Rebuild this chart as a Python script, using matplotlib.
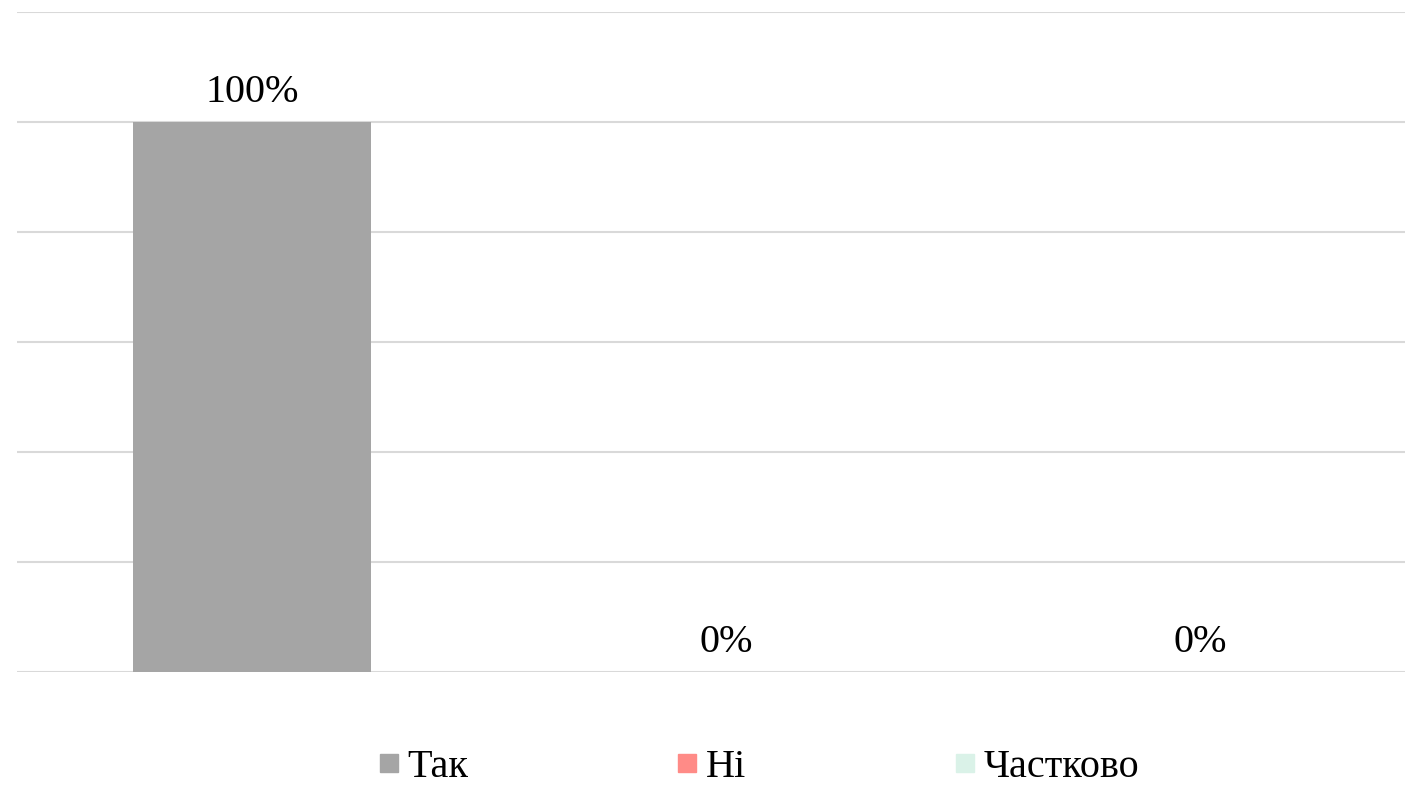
import matplotlib.pyplot as plt
from matplotlib.lines import Line2D

# Data
categories = ['Так', 'Ні', 'Частково']
values     = [1.00, 0.00, 0.00]
colors     = ['#A5A5A5', '#FF8B87', '#DAF2E8']

plt.rcParams['font.family'] = ['Liberation Serif', 'DejaVu Serif']

fig = plt.figure(figsize=(14.22, 7.86), dpi=100)
ax = fig.add_axes([17 / 1422, 114 / 786, 1388 / 1422, 660 / 786])

x = list(range(len(categories)))
bars = ax.bar(x, values, width=0.502, color=colors, zorder=2)

for xi, v in zip(x, values):
    ax.annotate(f"{v:.0%}", (xi, v), xytext=(0, 8), textcoords='offset points',
                ha='center', va='bottom', fontsize=29, color='#000000')

ax.set_xlim(-0.496, 2.432)
ax.set_ylim(0, 1.2)
ax.set_yticks([0, 0.2, 0.4, 0.6, 0.8, 1.0, 1.2])
ax.yaxis.grid(True, color='#D9D9D9', linewidth=1.5, zorder=0)
ax.tick_params(left=False, bottom=False, labelleft=False, labelbottom=False)
for s in ax.spines.values():
    s.set_visible(False)

handles = [Line2D([], [], marker='s', linestyle='none', markersize=13,
                  markerfacecolor=c, markeredgecolor=c) for c in colors]
fig.legend(handles, categories, loc='center', bbox_to_anchor=(759 / 1422, 1 - 767 / 786),
           ncol=3, frameon=False, fontsize=29, handlelength=0.5, handletextpad=0.2,
           columnspacing=5.2, borderpad=0)

plt.savefig("out.png", dpi=100)
